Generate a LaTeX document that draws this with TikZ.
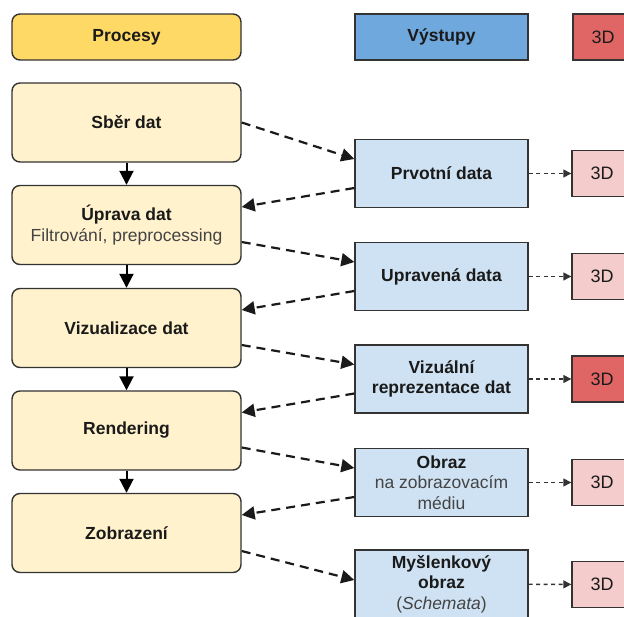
\documentclass[tikz,border=0pt]{standalone}
\usepackage{fontspec}
\setmainfont{Liberation Sans}
\usetikzlibrary{arrows.meta}

\definecolor{edge}{HTML}{333333}
\definecolor{ink}{HTML}{1A1A1A}
\definecolor{subink}{HTML}{444444}
\definecolor{headyellow}{HTML}{FFD966}
\definecolor{headblue}{HTML}{6FA8DC}
\definecolor{headred}{HTML}{E06666}
\definecolor{procfill}{HTML}{FFF2CC}
\definecolor{outfill}{HTML}{CFE2F3}
\definecolor{pinkfill}{HTML}{F4CCCC}

\newcommand{\plainline}[1]{{\mdseries\color{subink}#1}}

\tikzset{
  boxfont/.style={font=\bfseries\fontsize{17.5}{20.5}\selectfont, text=ink, align=center},
  procbox/.style={boxfont, draw=edge, line width=1.4pt, fill=procfill, rounded corners=8pt,
    minimum width=229pt, minimum height=79pt, inner sep=0pt},
  outbox/.style={boxfont, draw=edge, line width=1.4pt, fill=outfill,
    minimum width=173pt, minimum height=68pt, inner sep=0pt},
  cubebox/.style={font=\fontsize{18}{21}\selectfont, text=ink, draw=edge, line width=1.4pt,
    fill=pinkfill, minimum width=60pt, minimum height=46pt, inner sep=0pt},
  flow/.style={draw=black, line width=2pt, -{Triangle[length=14pt,width=14pt]}},
  handoff/.style={draw=ink, line width=2.2pt, dash pattern=on 9pt off 6pt,
    -{Triangle[length=13pt,width=13pt]}},
  derive/.style={draw=edge, line width=1.4pt, dash pattern=on 4pt off 3.5pt,
    -{Triangle[length=8pt,width=8pt]}}
}

\begin{document}
\begin{tikzpicture}[x=1pt,y=-1pt]
\useasboundingbox (0,0) rectangle (624,616);
\clip (0,0) rectangle (624,616);

% legend row
\node[procbox, fill=headyellow, minimum height=46pt] (hproc) at (126.5,37) {Procesy};
\node[outbox, fill=headblue, minimum height=46pt] (hout) at (441.5,37) {Výstupy};
\node[cubebox, fill=headred] (hcube) at (603,37) {3D};

% process column
\node[procbox] (sber) at (126.5,122.5) {Sběr dat};
\node[procbox] (uprava) at (126.5,225) {Úprava dat\\\plainline{Filtrování, preprocessing}};
\node[procbox] (vizualizace) at (126.5,328) {Vizualizace dat};
\node[procbox] (rendering) at (126.5,430.5) {Rendering};
\node[procbox] (zobrazeni) at (126.5,533) {Zobrazení};

% output column
\node[outbox] (prvotni) at (441.5,173.5) {Prvotní data};
\node[outbox] (upravena) at (441.5,276.5) {Upravená data};
\node[outbox] (vizualni) at (441.5,379) {Vizuální\\reprezentace dat};
\node[outbox] (obraz) at (441.5,482.5) {Obraz\\\plainline{na zobrazovacím}\\\plainline{médiu}};
\node[outbox] (myslenkovy) at (441.5,584) {Myšlenkový\\obraz\\\plainline{(\textit{Schemata})}};

% 3D column
\node[cubebox] (c1) at (602,173.5) {3D};
\node[cubebox] (c2) at (602,276.5) {3D};
\node[cubebox, fill=headred] (c3) at (602,379) {3D};
\node[cubebox] (c4) at (602,482.5) {3D};
\node[cubebox] (c5) at (602,584.5) {3D};

% process sequence
\draw[flow] (sber) -- (uprava);
\draw[flow] (uprava) -- (vizualizace);
\draw[flow] (vizualizace) -- (rendering);
\draw[flow] (rendering) -- (zobrazeni);

% outputs handed between the columns
\draw[handoff] (sber.east) -- ([yshift=14.5pt]prvotni.west);
\draw[handoff] ([yshift=-14.5pt]prvotni.west) -- ([yshift=18pt]uprava.east);
\draw[handoff] ([yshift=-17pt]uprava.east) -- ([yshift=14.5pt]upravena.west);
\draw[handoff] ([yshift=-14.5pt]upravena.west) -- ([yshift=18pt]vizualizace.east);
\draw[handoff] ([yshift=-17pt]vizualizace.east) -- ([yshift=14.5pt]vizualni.west);
\draw[handoff] ([yshift=-14.5pt]vizualni.west) -- ([yshift=18pt]rendering.east);
\draw[handoff] ([yshift=-17pt]rendering.east) -- ([yshift=14.5pt]obraz.west);
\draw[handoff] ([yshift=-14.5pt]obraz.west) -- ([yshift=18pt]zobrazeni.east);
\draw[handoff] ([yshift=-18pt]zobrazeni.east) -- ([yshift=4pt]myslenkovy.west);

% 3D counterparts
\draw[derive] (prvotni) -- (c1);
\draw[derive] (upravena) -- (c2);
\draw[derive] (vizualni) -- (c3);
\draw[derive] (obraz) -- (c4);
\draw[derive] (myslenkovy) -- (c5);
\end{tikzpicture}
\end{document}
